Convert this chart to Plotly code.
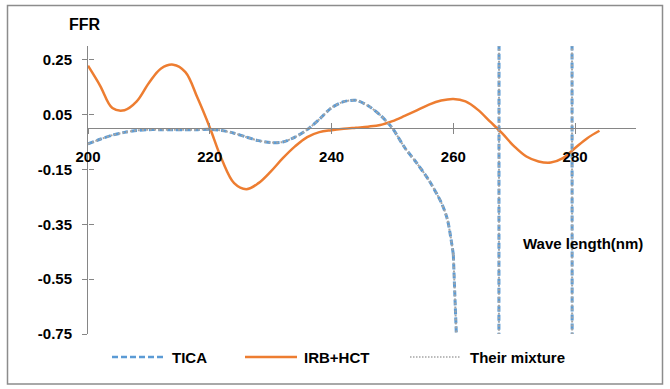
import plotly.graph_objects as go

# ---------------- data ----------------
wavelength_tica = [200, 202, 204, 206, 208, 210, 212, 214, 216, 218, 220, 222, 224, 226, 228,
                   230, 232, 234, 236, 238, 240, 242, 244, 246, 248, 250, 252, 254, 256, 258,
                   259, 260, 261, 262, 264, 266, 267, 268, 270, 272, 274, 276, 278, 279, 280,
                   282, 284]
tica = [-0.057, -0.040, -0.025, -0.015, -0.008, -0.005, -0.005, -0.005, -0.005, -0.005, -0.004,
        -0.008, -0.018, -0.032, -0.045, -0.052, -0.050, -0.032, -0.005, 0.033, 0.075, 0.097,
        0.102, 0.082, 0.048, 0.000, -0.070, -0.127, -0.190, -0.270, -0.330, -0.460, -1.05,
        -30, -30, -30, -30, 30, 30, 30, 30, 30, 30, 30, -30, -30, -30]
mixture = [-0.057, -0.040, -0.025, -0.015, -0.008, -0.005, -0.005, -0.005, -0.005, -0.005, -0.004,
           -0.008, -0.018, -0.032, -0.045, -0.052, -0.050, -0.032, -0.005, 0.033, 0.075, 0.097,
           0.102, 0.082, 0.048, 0.000, -0.070, -0.127, -0.190, -0.270, -0.330, -0.460, -1.05,
           -30, -30, -30, -30, 30, 30, 30, 30, 30, 30, 30, -30, -30, -30]

wavelength_irb = [200, 202, 204, 206, 208, 210, 212, 214, 216, 218, 220, 222, 224, 226, 228,
                  230, 232, 234, 236, 238, 240, 242, 244, 246, 248, 250, 252, 254, 256, 258,
                  260, 262, 264, 266, 268, 270, 272, 274, 276, 278, 280, 282, 284]
irb_hct = [0.228, 0.155, 0.074, 0.066, 0.098, 0.165, 0.218, 0.232, 0.205, 0.110, 0.003,
           -0.115, -0.200, -0.222, -0.200, -0.158, -0.109, -0.066, -0.032, -0.014, -0.007,
           -0.002, 0.002, 0.006, 0.012, 0.026, 0.045, 0.065, 0.086, 0.101, 0.107, 0.098,
           0.068, 0.025, -0.018, -0.066, -0.103, -0.121, -0.125, -0.109, -0.072, -0.036, -0.009]

x_ticks = [200, 220, 240, 260, 280]
y_ticks = [-0.75, -0.55, -0.35, -0.15, 0.05, 0.25]
y_ticktext = ["-0.75", "-0.55", "-0.35", "-0.15", "0.05", "0.25"]
series_names = ["TICA", "IRB+HCT", "Their mixture"]

# ---------------- style ----------------
BLUE = "#5B9BD5"
ORANGE = "#ED7D31"
GREY = "#A5A5A5"
AXIS = "#868686"
FONT = "Arial, Liberation Sans, sans-serif"

W, H = 670, 389
L, R, T, B = 88, 34, 46, 55
PW, PH = W - L - R, H - T - B
YMIN, YMAX = -0.75, 0.3


def px(xp):
    return (xp - L) / PW


def py(yp):
    return (H - B - yp) / PH


# the smooth part of the TICA / mixture curves is splined, the off-scale jumps are straight
split = wavelength_tica.index(260) + 1

fig = go.Figure()


def add_split(xs, ys, name, color, width, dash):
    fig.add_trace(go.Scatter(x=xs[:split], y=ys[:split], mode="lines", name=name,
                             line=dict(color=color, width=width, dash=dash, shape="spline",
                                       smoothing=0.8), showlegend=False))
    fig.add_trace(go.Scatter(x=xs[split - 1:], y=ys[split - 1:], mode="lines", name=name,
                             line=dict(color=color, width=width, dash=dash, shape="linear"),
                             showlegend=False))


add_split(wavelength_tica, tica, series_names[0], BLUE, 3, "6px,3px")
fig.add_trace(go.Scatter(x=wavelength_irb, y=irb_hct, mode="lines", name=series_names[1],
                         line=dict(color=ORANGE, width=2.5, shape="spline", smoothing=1.0),
                         showlegend=False))
add_split(wavelength_tica, mixture, series_names[2], GREY, 2, "2px,2px")

# helper trace for crossing tick marks
fig.add_trace(go.Scatter(x=[None], y=[None], xaxis="x2", yaxis="y2", showlegend=False,
                         hoverinfo="skip"))

zero_pos = (0 - YMIN) / (YMAX - YMIN)

fig.update_layout(
    width=W, height=H,
    margin=dict(l=L, r=R, t=T, b=B),
    paper_bgcolor="white", plot_bgcolor="white",
    font=dict(family=FONT, size=14, color="black"),
    showlegend=False,
    xaxis=dict(range=[200, 290], tickvals=x_ticks, anchor="free", position=zero_pos,
               showline=True, linecolor=AXIS, linewidth=1, ticks="outside", ticklen=5,
               tickcolor=AXIS, showgrid=False, zeroline=False, ticklabelstandoff=10,
               tickfont=dict(family=FONT, size=15, color="black", weight="bold")),
    yaxis=dict(range=[YMIN, YMAX], tickvals=y_ticks, ticktext=y_ticktext,
               showline=True, linecolor=AXIS, linewidth=1, ticks="outside", ticklen=5,
               tickcolor=AXIS, showgrid=False, zeroline=False, ticklabelstandoff=7,
               tickfont=dict(family=FONT, size=15, color="black", weight="bold")),
    xaxis2=dict(range=[200, 290], tickvals=x_ticks, overlaying="x", anchor="free",
                position=zero_pos, showline=False, ticks="inside", ticklen=5, tickcolor=AXIS,
                showticklabels=False, showgrid=False, zeroline=False),
    yaxis2=dict(range=[YMIN, YMAX], tickvals=y_ticks, overlaying="y", anchor="free",
                position=0, showline=False, ticks="inside", ticklen=5, tickcolor=AXIS,
                showticklabels=False, showgrid=False, zeroline=False),
)

shapes = [
    dict(type="rect", xref="paper", yref="paper", x0=px(7.5), x1=px(662.5), y0=py(384), y1=py(5.5),
         line=dict(color="#8C8C8C", width=1.5), fillcolor="rgba(0,0,0,0)", layer="below"),
    # manual legend samples
    dict(type="line", xref="paper", yref="paper", x0=px(112), x1=px(163), y0=py(357), y1=py(357),
         line=dict(color=BLUE, width=2.5, dash="6px,3px")),
    dict(type="line", xref="paper", yref="paper", x0=px(245), x1=px(297), y0=py(357), y1=py(357),
         line=dict(color=ORANGE, width=2.5)),
    dict(type="line", xref="paper", yref="paper", x0=px(410), x1=px(460), y0=py(357), y1=py(357),
         line=dict(color=GREY, width=1.5, dash="1.5px,1.5px")),
]
fig.update_layout(shapes=shapes)

bold = dict(family=FONT, size=15, color="black", weight="bold")
annotations = [
    dict(text=series_names[0], x=px(170), y=py(357), xanchor="left", yanchor="middle", font=bold),
    dict(text=series_names[1], x=px(302), y=py(357), xanchor="left", yanchor="middle", font=bold),
    dict(text=series_names[2], x=px(468), y=py(357), xanchor="left", yanchor="middle", font=bold),
    dict(text="FFR", x=px(85), y=py(24), xanchor="center", yanchor="middle",
         font=dict(family=FONT, size=16, color="black", weight="bold")),
    dict(text="Wave length(nm)", x=px(583), y=py(243), xanchor="center", yanchor="middle", font=bold),
]
for a in annotations:
    a.update(xref="paper", yref="paper", showarrow=False)
fig.update_layout(annotations=annotations)

fig.write_html("out.html", config={"displayModeBar": False},
               post_script="document.body.style.margin='0';")
